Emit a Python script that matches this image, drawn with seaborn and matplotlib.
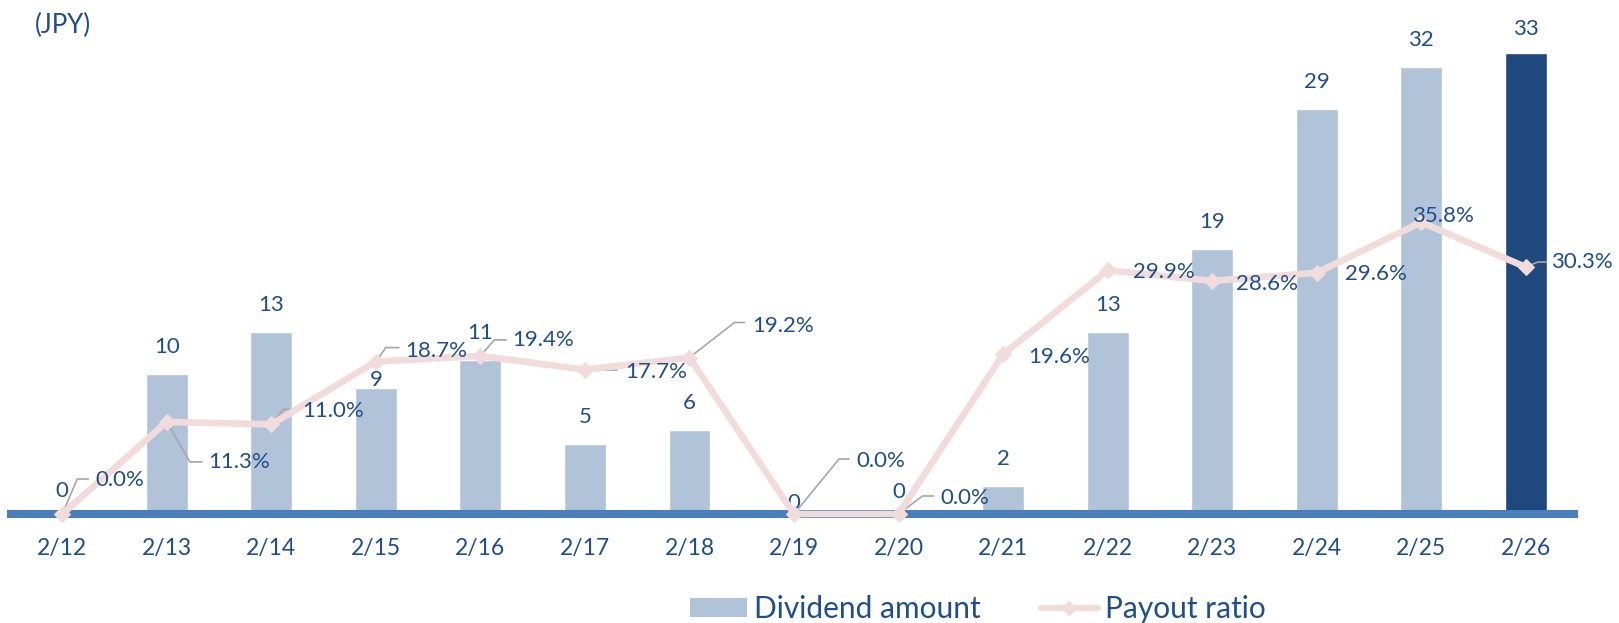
import numpy as np
import pandas as pd
import matplotlib
matplotlib.use("Agg")
import matplotlib.pyplot as plt
from matplotlib.patches import Patch
from matplotlib.lines import Line2D
import seaborn as sns

# ---- data ----
periods = ["2/12", "2/13", "2/14", "2/15", "2/16", "2/17", "2/18", "2/19",
           "2/20", "2/21", "2/22", "2/23", "2/24", "2/25", "2/26"]
dividend = [0, 10, 13, 9, 11, 5, 6, 0, 0, 2, 13, 19, 29, 32, 33]
payout = [0.0, 11.3, 11.0, 18.7, 19.4, 17.7, 19.2, 0.0, 0.0, 19.6, 29.9, 28.6, 29.6, 35.8, 30.3]
unit_label = "(JPY)"
legend_labels = ["Dividend amount", "Payout ratio"]

# ---- styling ----
TXT = "#1F4E8C"
LIGHT = "#B0C3D9"
DARK = "#1F497D"
PINK = "#F2DCDB"
BASE = "#4A7EBB"
LEAD = "#A6A6A6"
FONT = ["Lato", "DejaVu Sans"]

sns.set_theme(style="white")
plt.rcParams["font.family"] = FONT

W, H = 1619, 623
fig = plt.figure(figsize=(W / 100, H / 100), dpi=100)
ax = fig.add_axes([10 / W, (H - 514) / H, 1568 / W, 489 / H])

df = pd.DataFrame({"period": periods, "dividend": dividend})
colors = [LIGHT] * (len(periods) - 1) + [DARK]
sns.barplot(data=df, x="period", y="dividend", hue="period", palette=colors,
            order=periods, legend=False, width=0.4, saturation=1, ax=ax, zorder=2)
ax.set_xlim(-0.5, len(periods) - 0.5)
ax.set_ylim(0, 35)
ax.axhline(0, xmin=-0.002, xmax=1.0, color=BASE, lw=5.8, zorder=3,
           solid_capstyle="butt", clip_on=False)
for s in ax.spines.values():
    s.set_visible(False)
ax.set_yticks([])
ax.set_xlabel("")
ax.set_ylabel("")
ax.tick_params(axis="x", length=0, pad=17, labelsize=16.5, labelcolor=TXT)

# bar value labels (pixel offsets above bar top)
bar_off = [23, 27, 27, 8, 27, 27, 27, 11, 22, 27, 27, 27, 27, 27, 24]
for i, v in enumerate(dividend):
    ax.annotate(f"{v}", (i, v), xytext=(0, bar_off[i]), textcoords="offset pixels",
                ha="center", va="center", fontsize=16, color=TXT, zorder=6)

# payout ratio line on secondary axis
ax2 = ax.twinx()
sns.lineplot(x=np.arange(len(periods)), y=payout, ax=ax2, color=PINK, lw=4.8,
             marker="D", markersize=8, markeredgecolor=PINK, markerfacecolor=PINK,
             zorder=5, clip_on=False)
ax2.set_ylim(0, 60)
ax2.set_xlim(-0.5, len(periods) - 0.5)
ax2.set_yticks([])
for s in ax2.spines.values():
    s.set_visible(False)

# label offsets in pixels: (elbow1, elbow2, text-left)
leaders = [
    ((15, 35), (26, 35), (33, 34)),
    ((23, -40), (35, -40), (41, -40)),
    ((12, 15), (24, 15), (31, 13)),
    ((10, 14), (23, 14), (29, 11)),
    ((14, 16), (26, 16), (32, 16)),
    ((8, 0), (32, 0), (40, -2)),
    ((45, 35), (55, 35), (63, 32)),
    ((45, 55), (55, 55), (62, 53)),
    ((24, 18), (35, 18), (42, 16)),
    (None, None, (25, -3)),
    (None, None, (25, -2)),
    (None, None, (24, -3)),
    (None, None, (28, -1)),
    (None, None, (-9, 6)),
    ((12, 5), (21, 5), (25, 5)),
]
inv = ax2.transData.inverted()
for i, p in enumerate(payout):
    e1, e2, t = leaders[i]
    x0, y0 = ax2.transData.transform((i, p))
    if e1 is not None:
        if i == 5:
            xs = [x0 + e1[0], x0 + e2[0]]
            ys = [y0, y0]
        else:
            xs = [x0, x0 + e1[0], x0 + e2[0]]
            ys = [y0, y0 + e1[1], y0 + e2[1]]
        pts = inv.transform(np.column_stack([xs, ys]))
        ax2.plot(pts[:, 0], pts[:, 1], color=LEAD, lw=1.2, zorder=4, clip_on=False)
    ax2.annotate(f"{p:.1f}%", (i, p), xytext=t, textcoords="offset pixels",
                 ha="left", va="center", fontsize=16, color=TXT, zorder=7)

fig.text(35 / W, 1 - 25 / H, unit_label, ha="left", va="center", fontsize=18.5, color=TXT)

handles = [Patch(facecolor=LIGHT, edgecolor="none"),
           Line2D([0], [0], color=PINK, lw=4.5, marker="D", markersize=7,
                  markerfacecolor=PINK, markeredgecolor=PINK)]
fig.legend(handles, legend_labels, loc="center", bbox_to_anchor=(978 / W, 1 - 609 / H),
           ncol=2, frameon=False, fontsize=21.5, labelcolor=TXT, handlelength=1.9,
           handleheight=0.65, handletextpad=0.25, columnspacing=2.0, borderpad=0)

fig.savefig("out.png", dpi=100)
